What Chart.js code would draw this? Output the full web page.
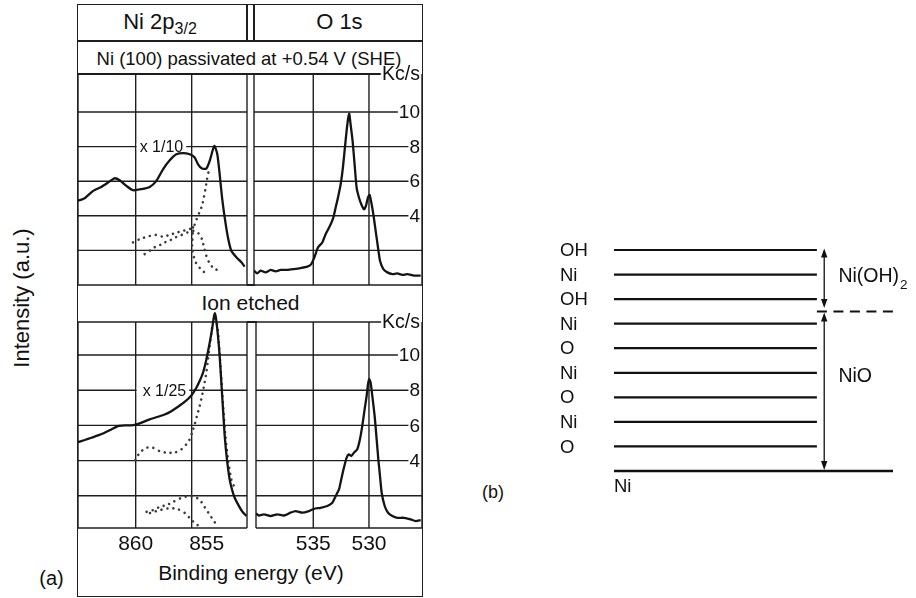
<!DOCTYPE html>
<html>
<head>
<meta charset="utf-8">
<script src="https://cdn.jsdelivr.net/npm/chart.js@4.4.1/dist/chart.umd.min.js"></script>
<style>
html,body{margin:0;padding:0;background:#fff;}
#fig{position:relative;width:916px;height:598px;overflow:hidden;background:#fff;
  font-family:"Liberation Sans",Arial,Helvetica,sans-serif;color:#111;}
#fig canvas{position:absolute;}
.t{position:absolute;white-space:nowrap;line-height:1;}
.ln{position:absolute;background:#1e1e1e;}
</style>
</head>
<body>
<div id="fig">
  <!-- frame of panel (a) -->
  <div style="position:absolute;left:77px;top:4px;width:346px;height:593px;border:1.5px solid #1e1e1e;box-sizing:border-box;"></div>
  <div class="ln" style="left:78px;top:40.25px;width:344px;height:1.5px;"></div>
  <div class="ln" style="left:78px;top:73.25px;width:302px;height:1.5px;"></div>
  <div class="ln" style="left:246.25px;top:5px;width:1.5px;height:36px;"></div>
  <div class="ln" style="left:253.25px;top:5px;width:1.5px;height:36px;"></div>
  <div class="ln" style="left:247px;top:284.25px;width:8px;height:1.5px;"></div>
  <div class="ln" style="left:247px;top:321.25px;width:10px;height:1.5px;"></div>

  <div class="t" style="left:160px;top:11.2px;font-size:22px;transform:translateX(-50%);">Ni 2p<span style="font-size:16px;position:relative;top:5px;">3/2</span></div>
  <div class="t" style="left:339.4px;top:11.2px;font-size:22px;transform:translateX(-50%);">O 1s</div>
  <div class="t" style="left:249px;top:50.2px;font-size:18.5px;transform:translateX(-50%);">Ni (100) passivated at +0.54 V (SHE)</div>
  <div class="t" style="left:250.5px;top:291.9px;font-size:21px;transform:translateX(-50%);">Ion etched</div>
  <div class="t" style="left:251px;top:561.7px;font-size:21px;transform:translateX(-50%);">Binding energy (eV)</div>
  <div class="t" style="left:22px;top:298px;font-size:22px;transform:translate(-50%,-50%) rotate(-90deg);">Intensity (a.u.)</div>
  <div class="t" style="left:51.5px;top:578px;font-size:20px;transform:translate(-50%,-50%);">(a)</div>
  <div class="t" style="left:493px;top:492px;font-size:18px;transform:translate(-50%,-50%);">(b)</div>

  <canvas id="cUL" width="189" height="231" style="left:68px;top:64px;"></canvas>
  <canvas id="cUR" width="188" height="231" style="left:244px;top:64px;"></canvas>
  <canvas id="cLL" width="189" height="260" style="left:68px;top:302px;"></canvas>
  <canvas id="cLR" width="186" height="260" style="left:246px;top:302px;"></canvas>
  <canvas id="cB" width="376" height="280" style="left:540px;top:230px;"></canvas>
</div>

<script>
// ---------------- data ----------------
// Ni 2p3/2, passivated at +0.54 V (SHE)
const niPassE = [865.15,864.55,863.8,863.07,862.47,861.9,861.43,860.83,860.24,859.5,858.75,858.15,857.56,856.96,856.37,855.77,855.18,854.73,854.43,854.08,853.69,853.39,853.1,852.95,852.71,852.5,852.29,852.05,851.76,851.46,851.01,850.56,850.27];
const niPassI = [4.87,5.02,5.44,5.67,5.92,6.17,6.06,5.73,5.48,5.54,5.67,6.02,6.69,7.21,7.56,7.63,7.56,7.37,6.98,6.73,6.73,7.17,7.85,8.04,7.56,6.4,5.06,3.9,2.75,1.98,1.6,1.31,1.06];
const niPassDot1E = [860.24,859.64,858.9,858.15,857.56,856.96,856.37,855.77,855.18,854.79,854.55,854.32,854.08,853.9,853.75,853.63,853.51];
const niPassDot1I = [2.46,2.65,2.81,2.90,2.79,2.90,3.02,3.13,3.23,3.42,3.81,4.19,4.58,5.10,5.63,6.12,6.5];
const niPassDot2E = [859.2,858.66,858.24,857.77,857.35,856.88,856.46,855.98,855.57,855.15,854.73,854.38,854.08,853.9,853.69,853.45,853.18,852.83,852.47];
const niPassDot2I = [1.79,2.02,2.21,2.33,2.48,2.60,2.75,2.87,2.98,3.10,3.13,2.98,2.65,2.17,1.69,1.31,1.06,0.90,0.79];
const niPassDot3E = [854.88,854.94,854.97,854.85,854.61,854.26,853.9];
const niPassDot3I = [3.33,2.56,2.13,1.73,1.27,0.98,0.75];
// O 1s, passivated
const oPassE = [540.33,540.03,539.73,539.28,538.83,538.38,537.93,537.34,536.74,536.14,535.54,535.18,534.88,534.58,534.19,533.89,533.5,533.2,532.99,532.78,532.54,532.34,532.16,532.01,531.86,531.77,531.65,531.47,531.29,531.11,530.9,530.69,530.45,530.27,530.09,529.94,529.79,529.61,529.4,529.19,529.01,528.71,528.35,527.9,527.46,527.01,526.56,525.96,525.36];
const oPassI = [0.83,0.67,0.83,0.73,0.87,0.79,0.87,0.87,0.92,0.98,1.06,1.21,1.63,2.17,2.46,2.94,3.42,3.90,4.48,5.06,5.83,6.79,7.94,8.90,9.67,9.90,9.29,8.33,6.98,5.63,5.06,4.67,4.38,4.58,5.06,5.21,4.77,4.10,3.13,2.17,1.40,0.92,0.73,0.63,0.67,0.58,0.63,0.54,0.54];
// Ni 2p3/2, ion etched
const niEtchE = [865.15,864.55,863.96,863.36,862.77,862.17,861.58,860.98,860.39,859.94,859.35,858.75,858.01,857.41,856.82,856.22,855.63,855.03,854.58,854.29,853.99,853.69,853.39,853.18,853.02,852.92,852.82,852.65,852.5,852.35,852.2,852.05,851.85,851.61,851.4,851.16,850.86,850.51,850.12];
const niEtchI = [5.05,5.17,5.30,5.43,5.58,5.77,5.96,6.00,6.00,6.06,6.19,6.34,6.49,6.62,6.81,7.06,7.33,7.70,8.14,8.52,8.99,9.75,10.70,11.46,12.15,12.37,12.05,11.08,9.94,8.43,6.91,5.40,4.07,2.93,2.36,1.89,1.51,1.13,0.85];
const niEtchDot1E = [860.03,859.64,859.05,858.45,857.86,857.26,856.52,855.92,855.48,855.18,854.97,854.73,854.49,854.29,854.08,853.9,853.69,853.54,853.39,853.24,853.1,852.95,852.71,852.53,852.35,852.17,851.99,851.76,851.46,851.1];
const niEtchDot1I = [4.03,4.45,4.73,4.73,4.54,4.45,4.45,4.64,4.92,5.21,5.58,6.06,6.63,7.10,7.67,8.24,9.0,9.75,10.51,11.27,11.84,12.12,11.65,10.32,8.61,6.91,5.40,4.07,2.93,2.36];
const niEtchDot2E = [859.02,858.43,857.83,857.23,856.64,856.04,855.3,854.71,854.26,853.96,853.66,853.37,853.07,852.77];
const niEtchDot2I = [1.09,1.19,1.38,1.47,1.66,1.85,1.98,1.93,1.76,1.47,1.19,0.90,0.62,0.34];
const niEtchDot3E = [858.72,857.83,856.94,856.2,855.6,855.15,854.71,854.26];
const niEtchDot3I = [1.02,1.19,1.30,1.23,1.02,0.72,0.45,0.24];
// O 1s, ion etched
const oEtchE = [540.14,539.88,539.43,538.83,538.23,537.63,537.04,536.59,535.99,535.39,534.94,534.34,533.74,533.29,532.99,532.69,532.49,532.25,532.01,531.8,531.59,531.35,531.05,530.81,530.6,530.39,530.21,530.09,529.97,529.85,529.7,529.49,529.31,529.16,529.01,528.86,528.59,528.29,527.9,527.46,526.86,526.26,525.81,525.36];
const oEtchI = [1.0,0.88,0.94,0.85,0.94,0.88,1.04,1.13,1.04,1.13,1.26,1.32,1.42,1.60,1.98,2.36,2.93,3.59,4.16,4.35,4.26,4.45,4.64,5.21,5.97,6.91,7.67,8.33,8.62,8.43,7.67,6.53,5.21,4.07,3.12,2.17,1.42,1.04,0.85,0.75,0.75,0.66,0.56,0.62];

// axis ticks / labels
const niTickValues = [860, 855];
const niTickLabels = ['860', '855'];
const oTickValues = [535, 530];
const oTickLabels = ['535', '530'];
const gridValues = [2, 4, 6, 8, 10];
const intensityTickValues = [4, 6, 8, 10];
const intensityTickLabels = ['4', '6', '8', '10'];
const intensityUnit = 'Kc/s';
const passFactor = 'x 1/10';
const etchFactor = 'x 1/25';

// panel (b): layer stack
const layerNames = ['OH', 'Ni', 'OH', 'Ni', 'O', 'Ni', 'O', 'Ni', 'O'];
const layerLevels = [9, 8, 7, 6, 5, 4, 3, 2, 1];
const substrateName = 'Ni';
const substrateLevel = 0;
const interfaceLevel = 6.5;
const regionNames = ['Ni(OH)', 'NiO'];
const regionSubs = ['2', ''];
const regionFrom = [9, 6.5];
const regionTo = [6.5, 0];

// ---------------- helpers ----------------
const FONT = '"Liberation Sans", Arial, Helvetica, sans-serif';
const INK = '#1e1e1e';
const zip = (xs, ys) => xs.map((v, i) => ({x: v, y: ys[i]}));

const solid = (xs, ys, clip) => ({
  data: zip(xs, ys), showLine: true, pointRadius: 0, borderColor: '#141414',
  borderWidth: 2.3, tension: 0.2, borderJoinStyle: 'round', clip: clip
});
const dotted = (xs, ys, clip) => ({
  data: zip(xs, ys), showLine: true, pointRadius: 0, borderColor: '#3c3c3c',
  borderWidth: 2.6, borderDash: [0.01, 6], borderCapStyle: 'round', tension: 0.2, clip: clip
});

const plotFrame = {
  id: 'plotFrame',
  beforeDatasetsDraw(chart, args, o) {
    const {ctx, chartArea: a, scales: {x, y}} = chart;
    const seg = (x1, y1, x2, y2) => { ctx.beginPath(); ctx.moveTo(x1, y1); ctx.lineTo(x2, y2); ctx.stroke(); };
    ctx.save();
    ctx.strokeStyle = INK; ctx.lineWidth = 1.4; ctx.fillStyle = '#111';
    o.xGrid.forEach(v => { const p = x.getPixelForValue(v); seg(p, a.top, p, a.bottom); });
    const labelRight = a.right - 2;
    ctx.textAlign = 'right'; ctx.textBaseline = 'middle';
    ctx.font = '19px ' + FONT;
    gridValues.forEach(v => {
      const p = y.getPixelForValue(v);
      let end = a.right;
      const i = o.yLabels ? intensityTickValues.indexOf(v) : -1;
      if (i >= 0) {
        const txt = intensityTickLabels[i];
        const w = ctx.measureText(txt).width;
        ctx.fillText(txt, labelRight, p + 1);
        end = labelRight - w - 1;
      }
      seg(a.left, p, end, p);
    });
    if (o.yLabels) {
      ctx.font = '19.5px ' + FONT;
      const w = ctx.measureText(intensityUnit).width;
      ctx.fillText(intensityUnit, labelRight, a.top + 1);
      seg(a.left, a.top, labelRight - w - 1, a.top);
    } else {
      seg(a.left, a.top, a.right, a.top);
    }
    seg(a.left, a.top, a.left, a.bottom);
    seg(a.right, a.top, a.right, a.bottom);
    seg(a.left, a.bottom, a.right, a.bottom);
    if (o.factor) {
      ctx.font = '16px ' + FONT;
      const px = x.getPixelForValue(o.factorAt);
      const py = y.getPixelForValue(o.factorValue);
      const w = ctx.measureText(o.factor).width;
      ctx.fillStyle = '#fff';
      ctx.fillRect(px + 1, py - 3, o.factorGap + w + 2, 6);
      ctx.fillStyle = '#111'; ctx.textAlign = 'left';
      ctx.fillText(o.factor, px + o.factorGap, py + 1);
    }
    ctx.restore();
  },
  afterDraw(chart, args, o) {
    if (!o.xLabels) return;
    const {ctx, chartArea: a, scales: {x}} = chart;
    ctx.save();
    ctx.fillStyle = '#111'; ctx.font = '21px ' + FONT;
    ctx.textAlign = 'center'; ctx.textBaseline = 'middle';
    o.xLabels.forEach((t, i) => {
      const v = o.xValues[i];
      ctx.fillText(t, x.getPixelForValue(v) + ((o.nudge && o.nudge[t]) || 0), a.bottom + 16);
    });
    ctx.restore();
  }
};

function makePlot(id, datasets, xr, yr, pad, frame) {
  return new Chart(document.getElementById(id), {
    type: 'scatter',
    data: {datasets},
    options: {
      responsive: false, animation: false, devicePixelRatio: 1, events: [],
      layout: {padding: pad},
      plugins: {legend: {display: false}, tooltip: {enabled: false}, plotFrame: frame},
      scales: {
        x: {type: 'linear', display: false, reverse: true, min: xr[0], max: xr[1], bounds: 'data'},
        y: {type: 'linear', display: false, min: yr[0], max: yr[1], bounds: 'data'}
      }
    },
    plugins: [plotFrame]
  });
}

const padU = {left: 10, right: 10, top: 10, bottom: 10};
const padL = {left: 10, right: 10, top: 20, bottom: 34};
const yUpper = [0, 12.2];
const yLower = [0.17, 11.875];

makePlot('cUL', [
  solid(niPassE, niPassI),
  dotted(niPassDot1E, niPassDot1I),
  dotted(niPassDot2E, niPassDot2I),
  dotted(niPassDot3E, niPassDot3I)
], [850.06, 865.15], yUpper, padU,
  {xGrid: niTickValues, yLabels: false, factor: passFactor, factorAt: 860, factorValue: 8, factorGap: 4});

makePlot('cUR', [
  solid(oPassE, oPassI)
], [525.24, 540.32], yUpper, padU,
  {xGrid: oTickValues, yLabels: true});

makePlot('cLL', [
  solid(niEtchE, niEtchI, false),
  dotted(niEtchDot1E, niEtchDot1I, false),
  dotted(niEtchDot2E, niEtchDot2I),
  dotted(niEtchDot3E, niEtchDot3I)
], [850.06, 865.15], yLower, padL,
  {xGrid: niTickValues, yLabels: false, factor: etchFactor, factorAt: 860, factorValue: 8, factorGap: 7,
   xLabels: niTickLabels, xValues: niTickValues, nudge: {'855': 15}});

makePlot('cLR', [
  solid(oEtchE, oEtchI)
], [525.24, 540.14], yLower, padL,
  {xGrid: oTickValues, yLabels: true, xLabels: oTickLabels, xValues: oTickValues});

// ---------------- panel (b) ----------------
const layerDecor = {
  id: 'layerDecor',
  afterDatasetsDraw(chart, args, o) {
    const {ctx, chartArea: a, scales: {x, y}} = chart;
    ctx.save();
    ctx.fillStyle = '#111'; ctx.strokeStyle = '#111';
    ctx.font = '18.5px ' + FONT; ctx.textAlign = 'left'; ctx.textBaseline = 'middle';
    layerNames.forEach((n, i) => ctx.fillText(n, a.left - 54, y.getPixelForValue(layerLevels[i]) + 1));
    ctx.fillText(substrateName, x.getPixelForValue(0), y.getPixelForValue(substrateLevel) + 16);
    const ax = x.getPixelForValue(o.arrowX);
    const head = (yt, dir) => {
      ctx.beginPath(); ctx.moveTo(ax, yt); ctx.lineTo(ax - 3.2, yt + dir * 9); ctx.lineTo(ax + 3.2, yt + dir * 9);
      ctx.closePath(); ctx.fill();
    };
    const arrow = (y1, y2) => {
      ctx.lineWidth = 1.3; ctx.beginPath(); ctx.moveTo(ax, y1 + 4); ctx.lineTo(ax, y2 - 4); ctx.stroke();
      head(y1, 1); head(y2, -1);
    };
    arrow(y.getPixelForValue(regionFrom[0]) - 1.5, y.getPixelForValue(regionTo[0]) - 3.5);
    arrow(y.getPixelForValue(regionFrom[1]) + 1, y.getPixelForValue(regionTo[1]) - 1);
    regionNames.forEach((n, i) => {
      const tx = x.getPixelForValue(o.textX);
      const ty = y.getPixelForValue(o.textLevels[i]);
      ctx.font = '19.5px ' + FONT;
      ctx.fillText(n, tx, ty);
      if (regionSubs[i]) {
        const w = ctx.measureText(n).width;
        ctx.font = '13.5px ' + FONT;
        ctx.fillText(regionSubs[i], tx + w + 1, ty + 8);
      }
    });
    ctx.restore();
  }
};

const layerSets = layerLevels.map(l => ({
  data: [{x: 0, y: l}, {x: 1, y: l}], showLine: true, pointRadius: 0,
  borderColor: '#111', borderWidth: 2.2, clip: false
}));
layerSets.push({
  data: [{x: 0, y: substrateLevel}, {x: 1.375, y: substrateLevel}], showLine: true, pointRadius: 0,
  borderColor: '#111', borderWidth: 2.6, clip: false
});
layerSets.push({
  data: [{x: 1, y: interfaceLevel}, {x: 1.375, y: interfaceLevel}], showLine: true, pointRadius: 0,
  borderColor: '#111', borderWidth: 2, borderDash: [10, 6.5], clip: false
});

new Chart(document.getElementById('cB'), {
  type: 'scatter',
  data: {datasets: layerSets},
  options: {
    responsive: false, animation: false, devicePixelRatio: 1, events: [],
    layout: {padding: {left: 74, right: 23, top: 20, bottom: 39}},
    plugins: {legend: {display: false}, tooltip: {enabled: false},
      layerDecor: {arrowX: 1.036, textX: 1.106, textLevels: [7.9, 3.85]}},
    scales: {
      x: {type: 'linear', display: false, min: 0, max: 1.375, bounds: 'data'},
      y: {type: 'linear', display: false, min: 0, max: 9, bounds: 'data'}
    }
  },
  plugins: [layerDecor]
});
</script>
</body>
</html>
